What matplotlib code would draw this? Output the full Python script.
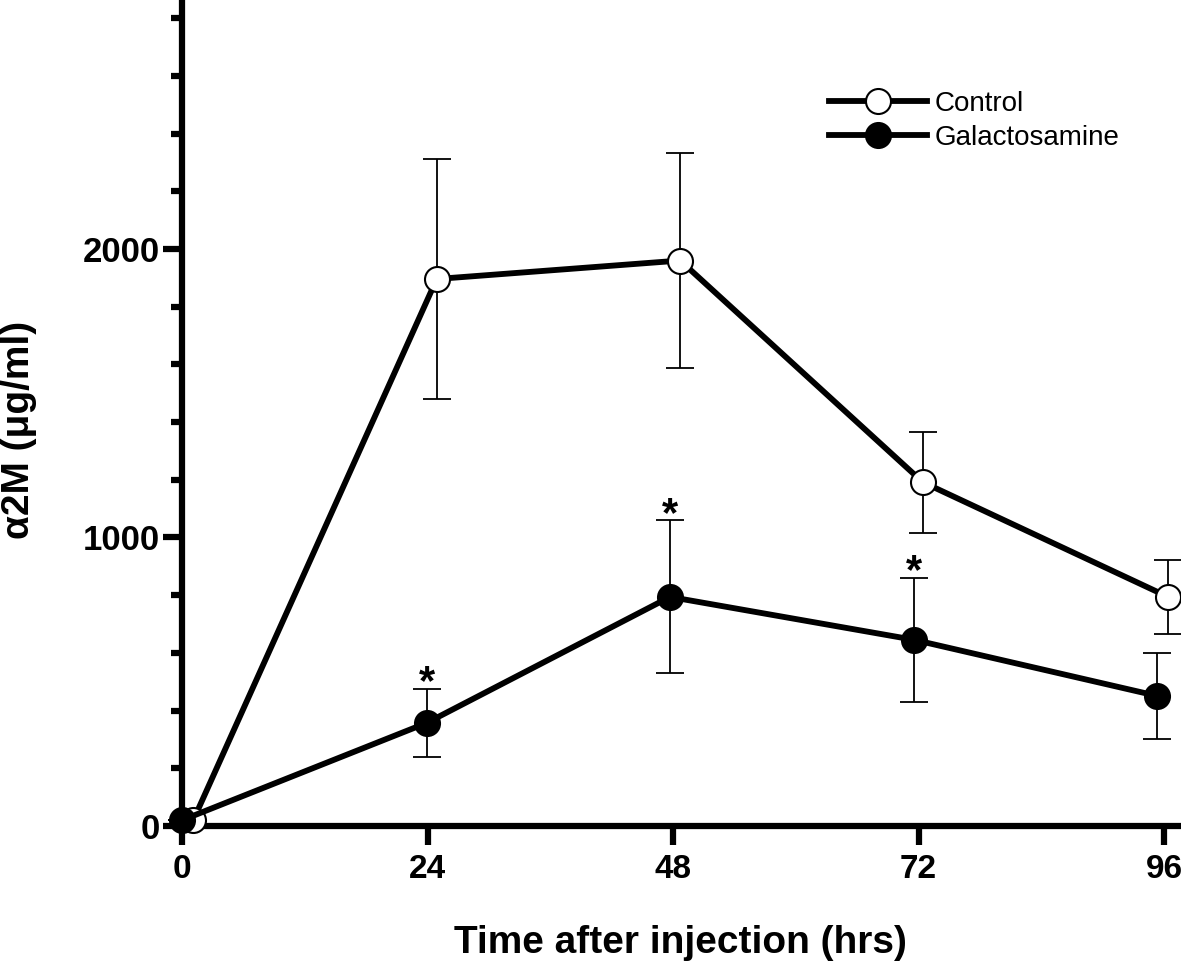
import numpy as np
import matplotlib
matplotlib.use("Agg")
import matplotlib.pyplot as plt
from matplotlib.ticker import MultipleLocator

plt.rcParams['font.family'] = ['Liberation Sans', 'DejaVu Sans']

# data
ctrl_t = [1.1, 24.9, 48.7, 72.4, 96.4]
ctrl_y = [20, 1896, 1960, 1192, 794]
ctrl_err = [0, 416, 372, 175, 127]

gal_t = [0, 23.9, 47.7, 71.6, 95.3]
gal_y = [20, 357, 794, 645, 451]
gal_err = [0, 118, 265, 216, 150]

star_idx = [1, 2, 3]  # significant points (Galactosamine)

xticks = [0, 24, 48, 72, 96]
yticks = [0, 1000, 2000]

fig = plt.figure(figsize=(11.81, 9.69), dpi=100)
ax = fig.add_axes([182 / 1181, 1 - 826 / 969, 1 - 182 / 1181, 826 / 969])

ax.errorbar(ctrl_t, ctrl_y, yerr=ctrl_err, fmt='none', ecolor='black',
            elinewidth=1.3, capsize=10, capthick=1.3, zorder=3, clip_on=False)
ax.errorbar(gal_t, gal_y, yerr=gal_err, fmt='none', ecolor='black',
            elinewidth=1.3, capsize=10, capthick=1.3, zorder=3, clip_on=False)

ax.plot(ctrl_t, ctrl_y, '-o', color='black', lw=4.2, ms=18, mfc='white',
        mec='black', mew=1.5, label='Control', zorder=4, clip_on=False)
ax.plot(gal_t, gal_y, '-o', color='black', lw=4.2, ms=18, mfc='black',
        mec='black', mew=1.5, label='Galactosamine', zorder=5, clip_on=False)

for i in star_idx:
    ax.annotate('*', xy=(gal_t[i], gal_y[i] + gal_err[i]), xytext=(0, 4),
                textcoords='offset points', ha='center', va='center',
                fontsize=30, fontweight='bold')

ax.set_xlim(0, 97.65)
ax.set_ylim(0, 2863)
ax.set_xticks(xticks)
ax.set_yticks(yticks)
ax.yaxis.set_minor_locator(MultipleLocator(200))

for s in ['top', 'right']:
    ax.spines[s].set_visible(False)
for s in ['left', 'bottom']:
    ax.spines[s].set_linewidth(4.5)

ax.tick_params(axis='both', which='major', length=14, width=4.5,
               labelsize=25, direction='out')
ax.tick_params(axis='y', which='major', pad=2)
ax.tick_params(axis='x', which='major', pad=6, labelsize=24)
ax.tick_params(axis='y', which='minor', length=8, width=4.5)
for lbl in ax.get_xticklabels() + ax.get_yticklabels():
    lbl.set_fontweight('bold')

ax.set_ylabel('α2M (μg/ml)', fontsize=28, fontweight='bold', va='center')
ax.yaxis.set_label_coords(-0.163, 0.48)
ax.set_xlabel('Time after injection (hrs)', fontsize=28, fontweight='bold',
              va='center')
ax.xaxis.set_label_coords(0.4985, -0.1416)

ax.legend(loc='upper left', bbox_to_anchor=(0.648, 0.89), frameon=False,
          fontsize=20, handlelength=3.5, handletextpad=0.3, labelspacing=0.3,
          borderaxespad=0, borderpad=0)

fig.savefig('out.png', dpi=100)
